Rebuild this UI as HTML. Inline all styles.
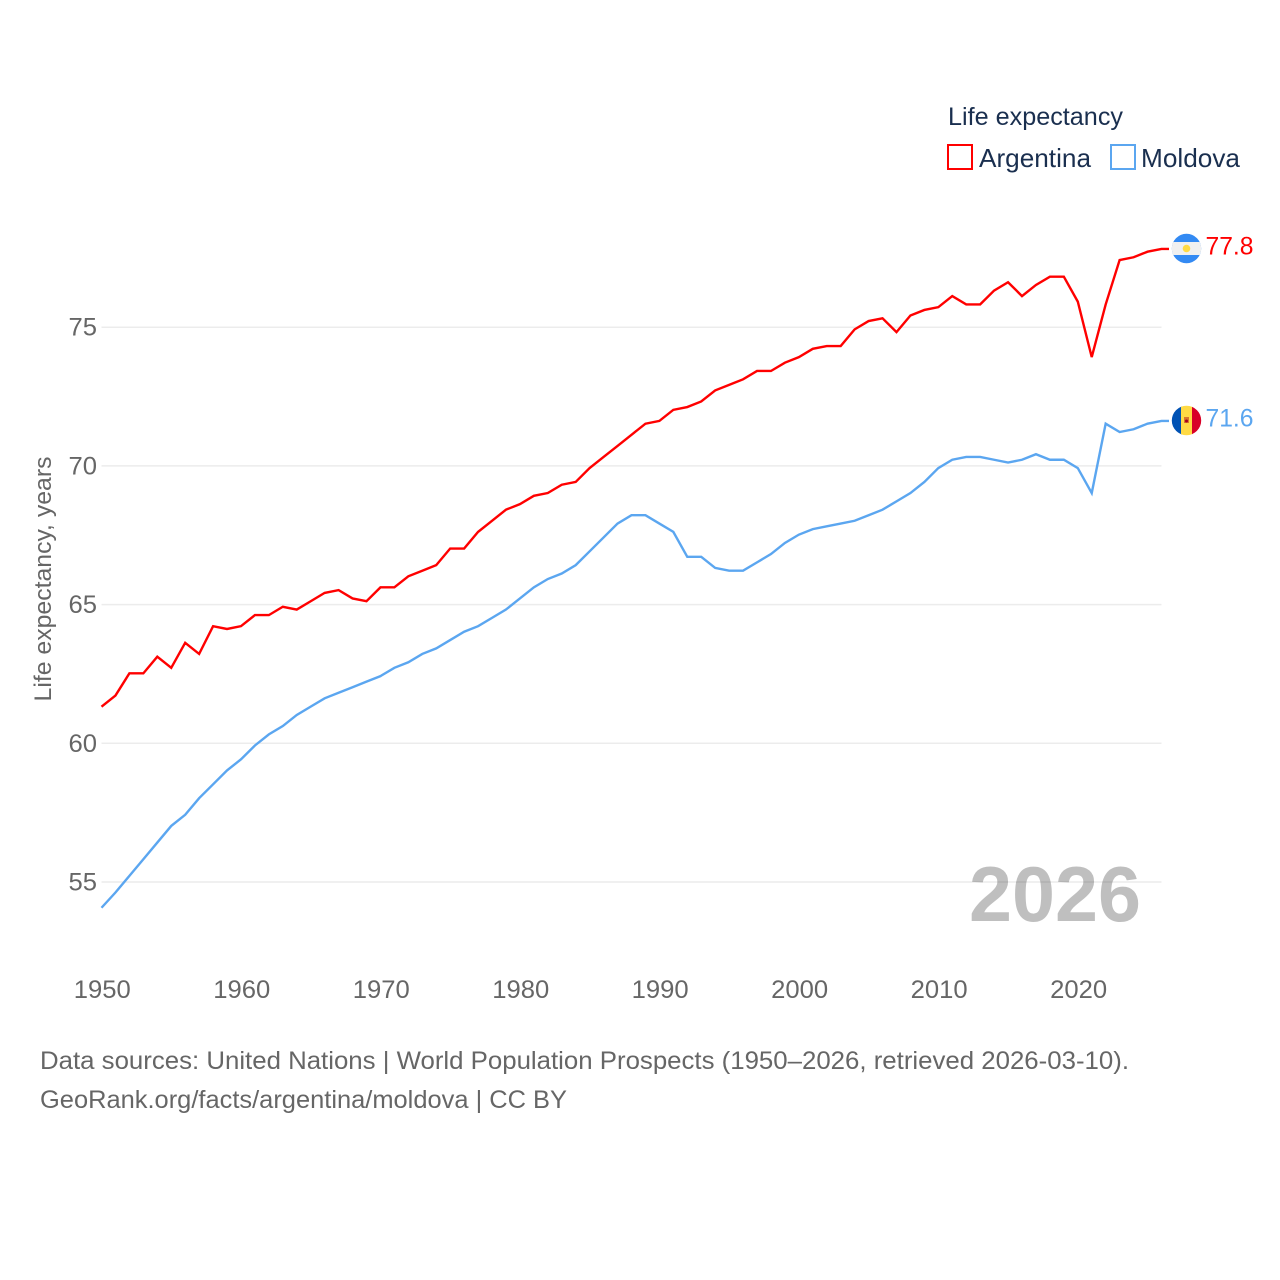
<!DOCTYPE html>
<html lang="en">
<head>
<meta charset="utf-8">
<title>Life expectancy: Argentina and Moldova</title>
<style>
html,body{margin:0;padding:0;background:#fff;width:1280px;height:1280px;overflow:hidden}
svg{display:block}
text{font-family:"Liberation Sans",sans-serif}
</style>
</head>
<body>
<svg id="chart" xmlns="http://www.w3.org/2000/svg" width="1280" height="1280" viewBox="0 0 1280 1280">
  <g id="grid"></g>
  <g id="yticks"></g>
  <g id="xticks"></g>
  <text transform="translate(51 579) rotate(-90)" text-anchor="middle" font-size="24.5" fill="#666" textLength="245" lengthAdjust="spacingAndGlyphs">Life expectancy, years</text>
  <g id="series" transform="translate(0 -0.6)"></g>
  <text x="969" y="921" font-size="78" font-weight="700" fill="#000" fill-opacity="0.25" textLength="172" lengthAdjust="spacingAndGlyphs">2026</text>

  <g>
    <text x="948" y="125" font-size="25" fill="#1a2f4f" textLength="175" lengthAdjust="spacingAndGlyphs">Life expectancy</text>
    <rect x="948" y="145" width="24" height="24" fill="#fff" stroke="#ff0000" stroke-width="2"/>
    <text x="979" y="167" font-size="26" fill="#1a2f4f" textLength="112" lengthAdjust="spacingAndGlyphs">Argentina</text>
    <rect x="1111" y="145" width="24" height="24" fill="#fff" stroke="#5ba6f0" stroke-width="2"/>
    <text x="1141" y="167" font-size="26" fill="#1a2f4f" textLength="99" lengthAdjust="spacingAndGlyphs">Moldova</text>
  </g>

  <defs>
    <clipPath id="clip-ar"><circle cx="1186.5" cy="248.5" r="14.7"/></clipPath>
    <clipPath id="clip-md"><circle cx="1186.5" cy="420.5" r="14.7"/></clipPath>
  </defs>
  <g clip-path="url(#clip-ar)">
    <rect x="1171" y="233" width="31" height="31" fill="#338af3"/>
    <rect x="1171" y="242" width="31" height="13" fill="#f0f0f0"/>
    <circle cx="1186.5" cy="248.5" r="3.8" fill="#ffda44"/>
  </g>
  <g clip-path="url(#clip-md)">
    <rect x="1171" y="405" width="11" height="31" fill="#0052b4"/>
    <rect x="1181" y="405" width="11" height="31" fill="#ffda44"/>
    <rect x="1192" y="405" width="11" height="31" fill="#d80027"/>
    <rect x="1184" y="417" width="5" height="6" fill="#d8752c"/>
    <circle cx="1186.5" cy="421" r="1.5" fill="#a2001d"/>
  </g>
  <g id="endlabels"></g>

  <g>
    <text x="40" y="1069" font-size="25" fill="#666" textLength="1089" lengthAdjust="spacingAndGlyphs">Data sources: United Nations | World Population Prospects (1950–2026, retrieved 2026-03-10).</text>
    <text x="40" y="1108" font-size="25" fill="#666" textLength="527" lengthAdjust="spacingAndGlyphs">GeoRank.org/facts/argentina/moldova | CC BY</text>
  </g>
</svg>
<script>
const startYear = 1950;
const xTickLabels = [1950, 1960, 1970, 1980, 1990, 2000, 2010, 2020];
const yTickLabels = [55, 60, 65, 70, 75];
const argentinaValues = [61.3,61.7,62.5,62.5,63.1,62.7,63.6,63.2,64.2,64.1,64.2,64.6,64.6,64.9,64.8,65.1,65.4,65.5,65.2,65.1,65.6,65.6,66.0,66.2,66.4,67.0,67.0,67.6,68.0,68.4,68.6,68.9,69.0,69.3,69.4,69.9,70.3,70.7,71.1,71.5,71.6,72.0,72.1,72.3,72.7,72.9,73.1,73.4,73.4,73.7,73.9,74.2,74.3,74.3,74.9,75.2,75.3,74.8,75.4,75.6,75.7,76.1,75.8,75.8,76.3,76.6,76.1,76.5,76.8,76.8,75.9,73.9,75.8,77.4,77.5,77.7,77.8];
const moldovaValues = [54.05,54.6,55.2,55.8,56.4,57.0,57.4,58.0,58.5,59.0,59.4,59.9,60.3,60.6,61.0,61.3,61.6,61.8,62.0,62.2,62.4,62.7,62.9,63.2,63.4,63.7,64.0,64.2,64.5,64.8,65.2,65.6,65.9,66.1,66.4,66.9,67.4,67.9,68.2,68.2,67.9,67.6,66.7,66.7,66.3,66.2,66.2,66.5,66.8,67.2,67.5,67.7,67.8,67.9,68.0,68.2,68.4,68.7,69.0,69.4,69.9,70.2,70.3,70.3,70.2,70.1,70.2,70.4,70.2,70.2,69.9,69.0,71.5,71.2,71.3,71.5,71.6];

const NS = 'http://www.w3.org/2000/svg';
function xScale(year) { return 101.5 + (year - 1950) * 13.947; }
function yScale(v) { return 882 - (v - 55) * 27.74; }
function make(tag, attrs, parent, text) {
  const el = document.createElementNS(NS, tag);
  for (const k in attrs) el.setAttribute(k, attrs[k]);
  if (text !== undefined) el.textContent = text;
  parent.appendChild(el);
  return el;
}
const gridG = document.getElementById('grid');
const yG = document.getElementById('yticks');
const xG = document.getElementById('xticks');
const seriesG = document.getElementById('series');
const endG = document.getElementById('endlabels');

yTickLabels.forEach(function (t) {
  const line = make('line', {x1: xScale(1950), x2: xScale(2026), y1: yScale(t), y2: yScale(t), stroke: '#ececec', 'stroke-width': 1.5}, gridG);
  
  
  const label = make('text', {x: 97, y: yScale(t) + 8.5, 'text-anchor': 'end', 'font-size': 25, fill: '#666', textLength: 28.5, lengthAdjust: 'spacingAndGlyphs'}, yG, String(t));
  
  
});

xTickLabels.forEach(function (t) {
  const label = make('text', {x: xScale(t) + 0.8, y: 998, 'text-anchor': 'middle', 'font-size': 25, fill: '#666', textLength: 57, lengthAdjust: 'spacingAndGlyphs'}, xG, String(t));
  
  
});

function drawSeries(values, color, key) {
  const pts = values.map(function (v, i) { return xScale(startYear + i).toFixed(2) + ',' + yScale(v).toFixed(2); });
  const last = values[values.length - 1];
  const lastY = yScale(last);
  pts.push('1169,' + lastY.toFixed(2));
  const line = make('polyline', {points: pts.join(' '), fill: 'none', stroke: color, 'stroke-width': 2.4, 'stroke-linejoin': 'miter'}, seriesG);
  
  
  const label = make('text', {x: 1205.5, y: lastY + 5, 'font-size': 25, fill: color, textLength: 48, lengthAdjust: 'spacingAndGlyphs'}, endG, last.toFixed(1));
  
  
}
drawSeries(moldovaValues, '#5ba6f0', 'moldova');
drawSeries(argentinaValues, '#ff0000', 'argentina');
</script>
</body>
</html>
